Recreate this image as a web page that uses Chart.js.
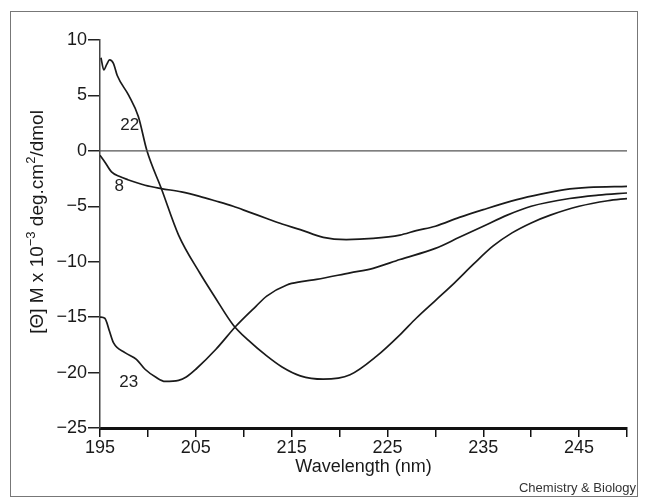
<!DOCTYPE html>
<html>
<head>
<meta charset="utf-8">
<script src="https://cdn.jsdelivr.net/npm/chart.js@4.4.0/dist/chart.umd.min.js"></script>
<style>
  html, body { margin: 0; padding: 0; background: #fff; }
  #cd { display: block; }
</style>
</head>
<body>
<canvas id="cd" width="648" height="504"></canvas>
<script>
// CD spectra, peptides 22 / 8 / 23
const wl22 = [195.1, 195.4, 195.7, 196.0, 196.4, 196.8, 198.0, 199.0, 199.9, 201.4, 203.2, 205.4, 207.0, 208.9, 210.5, 212.4, 214.0, 215.9, 218.3, 221.1, 223.9, 226.3, 228.0, 230.0, 232.0, 234.0, 236.0, 238.0, 240.0, 242.0, 245.0, 248.0, 250.0];
const v22  = [8.4, 7.3, 7.8, 8.2, 7.9, 6.8, 5.0, 3.1, 0.0, -3.4, -7.6, -11.0, -13.2, -15.7, -17.1, -18.5, -19.5, -20.3, -20.6, -20.2, -18.5, -16.6, -15.1, -13.5, -11.9, -10.2, -8.6, -7.4, -6.5, -5.8, -5.0, -4.5, -4.3];

const wl8 = [195.0, 195.5, 196.2, 197.0, 197.9, 199.7, 201.4, 203.5, 205.4, 207.0, 208.9, 210.5, 212.4, 214.0, 215.9, 218.3, 220.7, 223.5, 226.3, 228.0, 230.0, 232.5, 235.0, 238.5, 241.0, 243.5, 246.0, 250.0];
const v8  = [-0.4, -1.0, -1.9, -2.3, -2.6, -3.1, -3.4, -3.7, -4.1, -4.5, -5.0, -5.5, -6.1, -6.6, -7.1, -7.8, -8.0, -7.9, -7.6, -7.2, -6.8, -6.0, -5.3, -4.4, -3.9, -3.5, -3.3, -3.2];

const wl23 = [195.0, 195.5, 196.0, 196.4, 197.6, 198.8, 199.7, 200.8, 201.8, 203.2, 204.0, 205.0, 207.1, 209.2, 211.3, 212.4, 214.5, 216.0, 217.6, 221.1, 223.5, 226.3, 230.0, 232.5, 235.0, 237.5, 240.0, 244.0, 247.0, 250.0];
const v23  = [-15.0, -15.1, -16.3, -17.3, -18.2, -18.8, -19.7, -20.4, -20.8, -20.7, -20.4, -19.7, -17.9, -15.8, -14.0, -13.1, -12.1, -11.8, -11.6, -11.0, -10.6, -9.8, -8.8, -7.8, -6.8, -5.8, -5.0, -4.3, -4.0, -3.8];

const zeroWl = [195, 250];
const zeroV  = [0, 0];

// curve labels: text, wavelength, value
const curveLabels = [
  ["22", 198.1, 2.3],
  ["8", 197.0, -3.2],
  ["23", 198.0, -20.9],
];

const X_MIN = 195, X_MAX = 250, Y_MIN = -25, Y_MAX = 10;
const FONT = "'Liberation Sans', Arial, sans-serif";
const INK = "#1a1a1a";

const pts = (xs, ys) => xs.map((x, i) => ({ x, y: ys[i] }));
const curve = (data, color, width) => ({
  data, borderColor: color, borderWidth: width,
  pointRadius: 0, fill: false, cubicInterpolationMode: "monotone",
});

const decor = {
  id: "decor",
  beforeDraw(chart) {
    const ctx = chart.ctx;
    ctx.save();
    ctx.fillStyle = "#fff";
    ctx.fillRect(0, 0, chart.width, chart.height);
    ctx.strokeStyle = "#777";
    ctx.lineWidth = 1;
    ctx.strokeRect(10.5, 11.5, 627, 485);
    ctx.restore();
  },
  afterDraw(chart) {
    const ctx = chart.ctx;
    const xs = chart.scales.x, ys = chart.scales.y;
    ctx.save();

    // curve numbers
    ctx.fillStyle = "#222";
    ctx.font = "17px " + FONT;
    ctx.textAlign = "center";
    ctx.textBaseline = "middle";
    for (const [t, x, y] of curveLabels) {
      ctx.fillText(t, xs.getPixelForValue(x), ys.getPixelForValue(y));
    }

    // y title with superscripts
    const parts = [
      ["[\u0398] M x 10", false],
      ["\u22123", true],
      [" deg.cm", false],
      ["2", true],
      ["/dmol", false],
    ];
    const big = "19px " + FONT, small = "13px " + FONT;
    let total = 0;
    for (const [s, sup] of parts) { ctx.font = sup ? small : big; total += ctx.measureText(s).width; }
    ctx.translate(38, 222);
    ctx.rotate(-Math.PI / 2);
    ctx.textAlign = "left";
    ctx.textBaseline = "middle";
    ctx.fillStyle = INK;
    let cx = -total / 2;
    for (const [s, sup] of parts) {
      ctx.font = sup ? small : big;
      ctx.fillText(s, cx, sup ? -7 : 0);
      cx += ctx.measureText(s).width;
    }
    ctx.restore();

    // source credit
    ctx.save();
    ctx.fillStyle = "#333";
    ctx.font = "13px " + FONT;
    ctx.textAlign = "right";
    ctx.textBaseline = "middle";
    ctx.fillText("Chemistry & Biology", 636, 488);
    ctx.restore();
  },
};

new Chart(document.getElementById("cd"), {
  type: "line",
  data: {
    datasets: [
      curve(pts(zeroWl, zeroV), "#555", 1.4),
      curve(pts(wl22, v22), INK, 1.7),
      curve(pts(wl8, v8), INK, 1.7),
      curve(pts(wl23, v23), INK, 1.7),
    ],
  },
  options: {
    responsive: false,
    devicePixelRatio: 1,
    animation: false,
    layout: { padding: { top: 40, right: 21, left: 0, bottom: 0 } },
    plugins: { legend: { display: false }, tooltip: { enabled: false } },
    scales: {
      x: {
        type: "linear",
        min: X_MIN, max: X_MAX,
        afterFit: (s) => { s.height = 76; },
        border: { display: true, color: "#111", width: 3 },
        grid: { drawOnChartArea: false, drawTicks: true, tickLength: 9, color: "#111", lineWidth: 1.5 },
        ticks: {
          stepSize: 5, autoSkip: false, maxRotation: 0, padding: 0, color: INK,
          font: { family: FONT, size: 18 },
          callback: (v) => ((v - X_MIN) % 10 === 0 && v < X_MAX ? String(v) : ""),
        },
        title: {
          display: true, text: "Wavelength (nm)", color: INK,
          font: { family: FONT, size: 18 }, padding: { top: 0, bottom: 26 },
        },
      },
      y: {
        min: Y_MIN, max: Y_MAX,
        afterFit: (s) => { s.width = 100; },
        border: { display: true, color: "#444", width: 1.5 },
        grid: { drawOnChartArea: false, drawTicks: true, tickLength: 12, color: "#222", lineWidth: 1.5 },
        ticks: {
          stepSize: 5, padding: 1, color: INK,
          font: { family: FONT, size: 18 },
          callback: (v) => (v < 0 ? "\u2212" + Math.abs(v) : String(v)),
        },
      },
    },
  },
  plugins: [decor],
});
</script>
</body>
</html>
